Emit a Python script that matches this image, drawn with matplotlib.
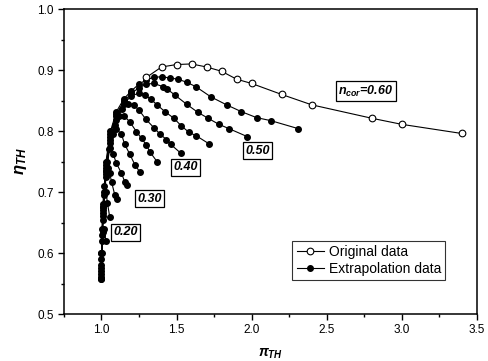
import matplotlib
matplotlib.use('Agg')
import matplotlib.pyplot as plt
from matplotlib.ticker import MultipleLocator, FormatStrFormatter

plt.rcParams['font.family'] = 'Liberation Sans'
plt.rcParams['mathtext.fontset'] = 'custom'
plt.rcParams['mathtext.it'] = 'Liberation Sans:bold:italic'
plt.rcParams['mathtext.rm'] = 'Liberation Sans:bold'

# original data, n_cor = 0.60
orig_x = [1.30, 1.40, 1.50, 1.60, 1.70, 1.80, 1.90, 2.00, 2.20, 2.40, 2.80, 3.00, 3.40]
orig_y = [0.888, 0.905, 0.909, 0.910, 0.905, 0.898, 0.885, 0.878, 0.860, 0.843, 0.821, 0.811, 0.796]

# extrapolated curves, n_cor = 0.55 ... 0.10
ext_x_055 = [1.00, 1.01, 1.03, 1.06, 1.10, 1.15, 1.20, 1.25, 1.30, 1.35, 1.40, 1.455, 1.51, 1.567, 1.627, 1.729, 1.833, 1.93, 2.033, 2.129, 2.31]
ext_y_055 = [0.60, 0.68, 0.75, 0.80, 0.832, 0.853, 0.866, 0.877, 0.884, 0.888, 0.889, 0.887, 0.885, 0.880, 0.873, 0.856, 0.843, 0.832, 0.822, 0.817, 0.804]

ext_x_050 = [1.00, 1.01, 1.03, 1.06, 1.10, 1.15, 1.20, 1.25, 1.30, 1.35, 1.407, 1.437, 1.489, 1.567, 1.64, 1.71, 1.782, 1.849, 1.97]
ext_y_050 = [0.60, 0.675, 0.745, 0.795, 0.828, 0.849, 0.862, 0.871, 0.877, 0.878, 0.873, 0.869, 0.859, 0.844, 0.831, 0.821, 0.811, 0.804, 0.791]

ext_x_045 = [1.00, 1.01, 1.03, 1.06, 1.10, 1.15, 1.20, 1.25, 1.29, 1.33, 1.37, 1.422, 1.482, 1.53, 1.582, 1.633, 1.717]
ext_y_045 = [0.59, 0.67, 0.74, 0.79, 0.824, 0.845, 0.858, 0.862, 0.859, 0.852, 0.843, 0.832, 0.821, 0.809, 0.798, 0.792, 0.779]

ext_x_040 = [1.00, 1.01, 1.03, 1.06, 1.10, 1.14, 1.18, 1.215, 1.251, 1.297, 1.351, 1.39, 1.433, 1.462, 1.527]
ext_y_040 = [0.58, 0.665, 0.735, 0.785, 0.818, 0.836, 0.845, 0.843, 0.834, 0.819, 0.805, 0.795, 0.786, 0.778, 0.764]

ext_x_035 = [1.00, 1.01, 1.03, 1.06, 1.09, 1.12, 1.15, 1.189, 1.233, 1.267, 1.30, 1.322, 1.373]
ext_y_035 = [0.575, 0.66, 0.73, 0.78, 0.81, 0.824, 0.825, 0.815, 0.799, 0.788, 0.777, 0.766, 0.749]

ext_x_030 = [1.00, 1.01, 1.03, 1.05, 1.075, 1.10, 1.133, 1.155, 1.189, 1.222, 1.255]
ext_y_030 = [0.57, 0.655, 0.725, 0.77, 0.795, 0.803, 0.795, 0.778, 0.762, 0.745, 0.733]

ext_x_025 = [1.00, 1.005, 1.02, 1.035, 1.055, 1.077, 1.10, 1.133, 1.155, 1.167]
ext_y_025 = [0.565, 0.64, 0.71, 0.75, 0.772, 0.763, 0.747, 0.731, 0.717, 0.711]

ext_x_020 = [1.00, 1.005, 1.015, 1.03, 1.045, 1.055, 1.067, 1.089, 1.104]
ext_y_020 = [0.56, 0.63, 0.695, 0.735, 0.74, 0.731, 0.717, 0.695, 0.688]

ext_x_015 = [1.00, 1.005, 1.012, 1.02, 1.03, 1.04, 1.055]
ext_y_015 = [0.558, 0.62, 0.675, 0.70, 0.70, 0.682, 0.659]

ext_x_010 = [1.00, 1.004, 1.01, 1.018, 1.029]
ext_y_010 = [0.557, 0.60, 0.635, 0.64, 0.62]

ext_curves = [
    (ext_x_055, ext_y_055), (ext_x_050, ext_y_050), (ext_x_045, ext_y_045),
    (ext_x_040, ext_y_040), (ext_x_035, ext_y_035), (ext_x_030, ext_y_030),
    (ext_x_025, ext_y_025), (ext_x_020, ext_y_020), (ext_x_015, ext_y_015),
    (ext_x_010, ext_y_010),
]

# curve labels
label_texts = [r'$n_{cor}$=0.60', '0.50', '0.40', '0.30', '0.20']
label_x = [2.76, 2.04, 1.56, 1.32, 1.16]
label_y = [0.865, 0.768, 0.741, 0.689, 0.634]

fig = plt.figure(figsize=(4.88, 3.61), dpi=100)
ax = fig.add_axes([0.131, 0.130, 0.846, 0.845])

for i, (cx, cy) in enumerate(ext_curves):
    ax.plot(cx, cy, '-', color='black', lw=0.8, marker='o', ms=4.0,
            mfc='black', mec='black', label='Extrapolation data' if i == 0 else None, zorder=2)

ax.plot(orig_x, orig_y, '-', color='black', lw=0.8, marker='o', ms=4.8,
        mfc='white', mec='black', mew=0.8, label='Original data', zorder=3)

for t, lx, ly in zip(label_texts, label_x, label_y):
    ax.text(lx, ly, t, fontsize=9, fontweight='bold', style='italic',
            ha='center', va='center',
            bbox=dict(boxstyle='square,pad=0.2', fc='white', ec='black', lw=0.9))

ax.set_xlim(0.75, 3.5)
ax.set_ylim(0.5, 1.0)
ax.xaxis.set_major_locator(MultipleLocator(0.5))
ax.xaxis.set_minor_locator(MultipleLocator(0.25))
ax.yaxis.set_major_locator(MultipleLocator(0.1))
ax.yaxis.set_minor_locator(MultipleLocator(0.05))
ax.xaxis.set_major_formatter(FormatStrFormatter('%.1f'))
ax.yaxis.set_major_formatter(FormatStrFormatter('%.1f'))
ax.tick_params(which='both', direction='out', labelsize=8.5, width=1.0)
ax.tick_params(which='major', length=4)
ax.tick_params(which='minor', length=2.5)
for s in ax.spines.values():
    s.set_linewidth(1.1)

ax.set_xlabel(r'$\pi_{TH}$', fontsize=10, labelpad=7)
ax.set_ylabel(r'$\eta_{TH}$', fontsize=12, labelpad=6)

handles, labels = ax.get_legend_handles_labels()
leg = ax.legend(handles[::-1], labels[::-1], loc='lower right', bbox_to_anchor=(0.94, 0.09),
                fontsize=10, frameon=True, fancybox=False, handlelength=2.0,
                borderpad=0.3, labelspacing=0.2, handletextpad=0.3)
leg.get_frame().set_edgecolor('black')
leg.get_frame().set_linewidth(0.8)

fig.savefig('out.png', dpi=100)
